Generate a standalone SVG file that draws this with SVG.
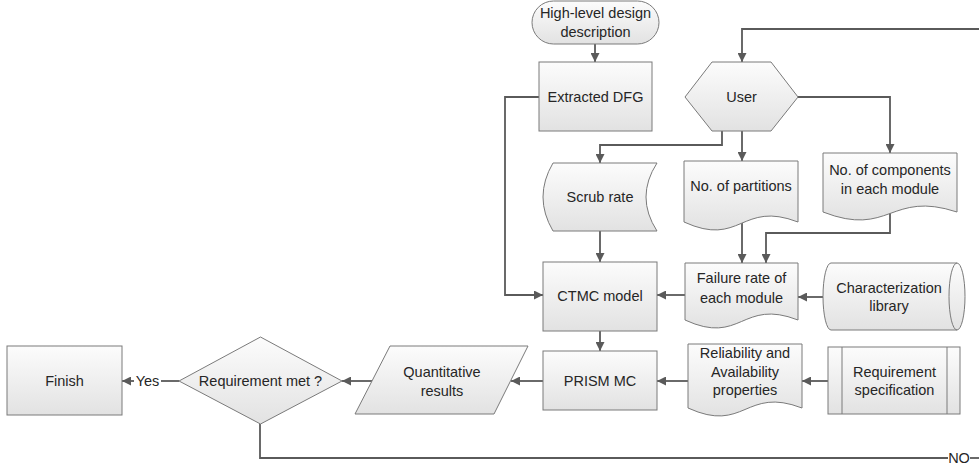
<svg xmlns="http://www.w3.org/2000/svg" width="979" height="469" viewBox="0 0 979 469">
<defs>
<linearGradient id="g" x1="0" y1="0" x2="0" y2="1">
<stop offset="0" stop-color="#fcfcfc"/>
<stop offset="1" stop-color="#e2e2e2"/>
</linearGradient>
<marker id="arr" viewBox="0 0 10 10" refX="10" refY="5" markerWidth="9" markerHeight="9" markerUnits="userSpaceOnUse" orient="auto">
<path d="M0,0 L10,5 L0,10 z" fill="#5a5a5a"/>
</marker>
</defs>
<style>
.s{fill:url(#g);stroke:#7a7a7a;stroke-width:1}
.l{fill:none;stroke:#7a7a7a;stroke-width:1}
.c{fill:none;stroke:#5a5a5a;stroke-width:1.8}
.a{marker-end:url(#arr)}
text{font-family:"Liberation Sans",Arial,sans-serif;font-size:14.5px;fill:#262626;text-anchor:middle}
</style>
<rect width="979" height="469" fill="#ffffff"/>

<g id="connectors">
<path class="c a" d="M595,44 V62"/>
<path class="c a" d="M539,97 H505 V295 H543"/>
<path class="c a" d="M979,29 H742 V62"/>
<path class="c a" d="M722,131 V145 H600 V163"/>
<path class="c a" d="M742,131 V161"/>
<path class="c a" d="M798,97 H890 V153"/>
<path class="c a" d="M600,231 V262"/>
<path class="c a" d="M742,220 V263"/>
<path class="c a" d="M890,208 V233 H766 V263"/>
<path class="c a" d="M685,295 H657"/>
<path class="c a" d="M823,297 H798"/>
<path class="c a" d="M600,331 V351"/>
<path class="c a" d="M828,381 H802"/>
<path class="c a" d="M688,381 H657"/>
<path class="c a" d="M543,381 H511"/>
<path class="c a" d="M372,381 H342"/>
<path class="c" d="M179,381 H161"/>
<path class="c a" d="M134,381 H122"/>
<text x="147.5" y="386">Yes</text>
<path class="c" d="M260,424 V458 H948"/>
<path class="c" d="M970,458 H979"/>
<text x="959" y="463">NO</text>
</g>

<g id="high-level">
<rect class="s" x="532" y="1" width="127" height="43" rx="21.5"/>
<text x="595.5" y="18">High-level design</text>
<text x="595.5" y="37">description</text>
</g>

<g id="extracted-dfg">
<rect class="s" x="539" y="62" width="113" height="69"/>
<text x="595.5" y="102">Extracted DFG</text>
</g>

<g id="user">
<path class="s" d="M685,97 L712,62 L771,62 L798,97 L771,131 L712,131 Z"/>
<text x="741.5" y="102">User</text>
</g>

<g id="scrub-rate">
<path class="s" d="M553,163 H657 Q635,197 657,231 H553 Q533,197 553,163 Z"/>
<text x="600" y="202">Scrub rate</text>
</g>

<g id="partitions">
<path class="s" d="M684,161 H798 V222 C741,200 741,248 684,222 Z"/>
<text x="741" y="191">No. of partitions</text>
</g>

<g id="components">
<path class="s" d="M823,153 H957 V212 C890,190 890,238 823,212 Z"/>
<text x="890" y="175">No. of components</text>
<text x="890" y="194">in each module</text>
</g>

<g id="failure-rate">
<path class="s" d="M685,263 H798 V320 C741.5,298 741.5,346 685,320 Z"/>
<text x="741.5" y="283">Failure rate of</text>
<text x="741.5" y="303">each module</text>
</g>

<g id="characterization">
<path class="s" d="M831,263 H957 A8,33.5 0 0 1 957,330 H831 A8,33.5 0 0 1 831,263 Z"/>
<path class="l" d="M957,263 A8,33.5 0 0 0 957,330"/>
<text x="889" y="293">Characterization</text>
<text x="889" y="311">library</text>
</g>

<g id="ctmc">
<rect class="s" x="543" y="262" width="114" height="69"/>
<text x="600" y="301">CTMC model</text>
</g>

<g id="prism">
<rect class="s" x="543" y="351" width="114" height="59"/>
<text x="600" y="386">PRISM MC</text>
</g>

<g id="reliability">
<path class="s" d="M688,344 H802 V408 C745,386 745,434 688,408 Z"/>
<text x="745" y="358">Reliability and</text>
<text x="745" y="377">Availability</text>
<text x="745" y="395">properties</text>
</g>

<g id="requirement-spec">
<rect class="s" x="828" y="347" width="132" height="67"/>
<path class="l" d="M842,347 V414 M947,347 V414"/>
<text x="894.5" y="377">Requirement</text>
<text x="894.5" y="395">specification</text>
</g>

<g id="quantitative">
<path class="s" d="M390,346 H528 L494,414 H355 Z"/>
<text x="442" y="377">Quantitative</text>
<text x="442" y="396">results</text>
</g>

<g id="decision">
<path class="s" d="M179,381 L260.5,337 L342,381 L260.5,424 Z"/>
<text x="260.5" y="386">Requirement met ?</text>
</g>

<g id="finish">
<rect class="s" x="7" y="346" width="115" height="69"/>
<text x="64.5" y="386">Finish</text>
</g>
</svg>
